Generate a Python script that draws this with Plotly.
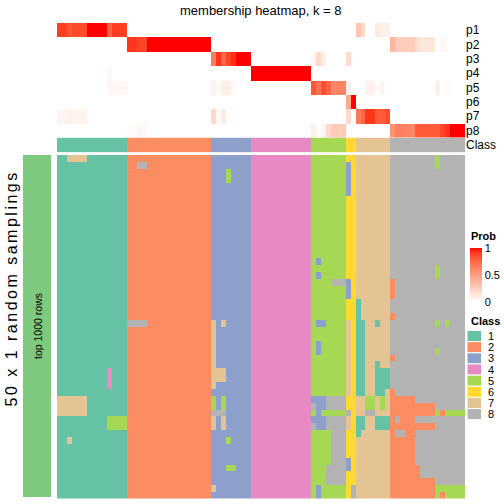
import plotly.graph_objects as go

# ---------------- data ----------------
prob_rows = ["p1", "p2", "p3", "p4", "p5", "p6", "p7", "p8"]

col_class = [1,1,1,1,1,1,1,1,1,1,1,1,1,1,
             2,2,2,2,2,2,2,2,2,2,2,2,2,2,2,2,2,
             3,3,3,3,3,3,3,3,
             4,4,4,4,4,4,4,4,4,4,4,4,
             5,5,5,5,5,5,5,
             6,6,
             7,7,7,7,7,7,7,
             8,8,8,8,8,8,8,8,8,8,8,8,8,8,8]

p1 = [0.9,0.9,0.82,0.86,0.86,0.86,1,1,1,1,
      0.78,0.9,0.9,0.9,0,0,0,0,0,0,
      0,0,0,0,0,0,0,0,0,0,
      0,0,0,0,0,0,0,0,0,0,
      0,0,0,0,0,0,0,0,0,0,
      0,0,0,0,0,0,0,0,0,0,
      0.3,0.22,0,0,0.12,0.08,0.08,0,0,0,
      0,0,0,0,0,0,0,0,0,0,
      0,0]
p2 = [0,0,0,0,0,0,0,0,0,0,
      0,0,0,0,0.92,0.92,0.88,0.88,1,1,
      1,1,1,1,1,1,1,1,1,1,
      1,0,0,0,0,0,0,0,0,0,
      0,0,0,0,0,0,0,0,0,0,
      0,0,0,0,0,0,0,0,0,0,
      0,0,0,0,0,0,0,0.38,0.27,0.27,
      0.27,0.27,0.18,0.13,0.13,0.13,0,0.04,0,0,
      0,0]
p3 = [0,0,0,0,0,0,0,0,0,0,
      0,0,0,0,0,0,0,0,0,0,
      0,0,0,0,0,0,0,0,0,0,
      0,0.65,0.92,0.75,0.88,0.94,1,1,1,0,
      0,0,0,0,0,0,0,0,0,0,
      0,0.04,0.2,0.1,0,0,0,0,0.18,0,
      0,0,0,0,0,0,0,0,0,0,
      0,0,0,0,0,0,0,0,0,0,
      0,0]
p4 = [0,0,0,0,0,0,0,0,0,0,
      0.04,0,0,0,0,0,0,0,0,0,
      0,0,0,0,0,0,0,0,0,0,
      0,0,0,0,0,0,0,0,0,1,
      1,1,1,1,1,1,1,1,1,1,
      1,0,0,0,0,0,0,0,0,0,
      0,0,0,0,0,0,0,0,0,0,
      0,0,0,0,0,0,0,0,0,0,
      0,0]
p5 = [0,0,0,0,0,0,0,0,0,0,
      0.04,0.04,0.04,0.04,0,0,0,0,0,0,
      0,0,0,0,0,0,0,0,0,0,
      0,0.06,0.03,0.08,0.08,0.02,0,0,0,0,
      0,0,0,0,0,0,0,0,0,0,
      0,0.82,0.7,0.85,0.76,0.62,0.62,0.62,0.06,0,
      0,0,0.06,0.06,0,0.04,0,0,0,0,
      0,0,0,0,0,0,0.08,0,0.03,0,
      0,0]
p6 = [0,0,0,0,0,0,0,0,0,0,
      0,0,0,0,0,0,0,0,0,0,
      0,0,0,0,0,0,0,0,0,0,
      0,0,0,0,0,0,0,0,0,0,
      0,0,0,0,0,0,0,0,0,0,
      0,0,0,0,0,0,0,0,0.45,1,
      0,0,0,0,0,0,0,0,0,0,
      0,0,0,0,0,0,0,0,0,0,
      0,0]
p7 = [0.05,0.05,0.08,0.06,0.06,0.06,0,0,0,0,
      0,0,0,0,0,0,0,0,0,0,
      0,0,0,0,0,0,0,0,0,0,
      0,0.2,0.03,0.1,0,0,0,0,0,0,
      0,0,0,0,0,0,0,0,0,0,
      0,0,0,0,0,0,0,0,0.2,0,
      0.68,0.75,0.92,0.92,0.8,0.8,0.85,0,0,0,
      0,0,0,0,0,0,0,0,0,0,
      0,0]
p8 = [0,0,0,0,0,0,0,0,0,0,
      0,0,0,0,0.02,0.02,0.04,0.04,0,0,
      0,0,0,0,0,0,0,0,0,0,
      0,0,0,0,0,0,0,0,0,0,
      0,0,0,0,0,0,0,0,0,0,
      0,0.08,0,0.05,0.2,0.28,0.28,0.28,0,0,
      0,0,0,0,0,0,0,0.55,0.65,0.65,
      0.62,0.62,0.8,0.8,0.8,0.8,0.8,0.88,0.93,1,
      1,1]

# 50 random samplings: class of each column in each sampling
sampling_rows = [
    "11777711111111 22222222222222222 33333333 444444444444 5555555 66 7777777 888888888588888",
    "11111111111111 22882222222222222 33333333 444444444444 5555555 36 7777777 888888888588888",
    "11111111111111 22222222222222222 33353333 444444444444 5555555 36 7777777 888888888888888",
    "11111111111111 22222222222222222 33353333 444444444444 5555555 36 7777777 888888888888888",
    "11111111111111 22222222222222222 33333333 444444444444 5555555 36 7777777 888888888888888",
    "11111111111111 22222222222222222 33333333 444444444444 5555555 36 7777777 888888888888888",
    "11111111111111 22222222222222222 33333333 444444444444 5555555 66 7777777 888888888888888",
    "11111111111111 22222222222222222 33333333 444444444444 5555555 66 7777777 888888888888888",
    "11111111111111 22222222222222222 33333333 444444444444 5555555 66 7777777 888888888888888",
    "11111111111111 22222222222222222 33333333 444444444444 5555555 66 7777777 888888888888888",
    "11111111111111 22222222222222222 33333333 444444444444 5555555 66 7777777 888888888888888",
    "11111111111111 22222222222222222 33333333 444444444444 5555555 66 7777777 888888888888888",
    "11111111111111 22222222222222222 33333333 444444444444 5555555 66 7777777 888888888888888",
    "11111111111111 22222222222222222 33333333 444444444444 5555555 66 7777777 888888888888888",
    "11111111111111 22222222222222222 33333333 444444444444 5555555 66 7777777 888888888888888",
    "11111111111111 22222222222222222 33333333 444444444444 5355555 66 7777777 888888888888888",
    "11111111111111 22222222222222222 33333333 444444444444 5555555 66 7777777 888888888588888",
    "11111111111111 22222222222222222 33333333 444444444444 5355555 66 7777777 888888888588888",
    "11111111111111 22222222222222222 33333333 444444444444 5555888 36 7777777 288888888888888",
    "11111111111111 22222222222222222 33333333 444444444444 5555555 36 7777777 288888888888888",
    "11111111111111 22222222222222222 33333333 444444444444 5555555 36 7777777 288888888888888",
    "11111111111111 22222222222222222 33333333 444444444444 5555555 66 1777777 888888888888888",
    "11111111111111 22222222222222222 33333333 444444444444 5555555 66 1777777 888888888888888",
    "11111111111111 22222222222222222 33333333 444444444444 5555555 66 1777777 288888888888888",
    "11111111111111 88882222222222222 73733333 444444444444 5335555 76 1177177 888888888585888",
    "11111111111111 22222222222222222 73333333 444444444444 5555555 76 1177777 888888888888888",
    "11111111111111 22222222222222222 73333333 444444444444 5555555 76 1177777 888888888888888",
    "11111111111111 22222222222222222 73333333 444444444444 5355555 76 1177777 888888888888888",
    "11111111111111 22222222222222222 73333333 444444444444 5355555 76 1177777 888888888588888",
    "11111111111111 22222222222222222 73333333 444444444444 5555555 76 1177777 288888888888888",
    "11111111111111 22222222222222222 73333333 444444444444 5555555 76 1177177 888888888888888",
    "11111111114111 22222222222222222 77733333 444444444444 5555555 76 1177111 888888888888888",
    "11111111114111 22222222222222222 77733333 444444444444 5555555 76 1177111 888888888888888",
    "11111111114111 22222222222222222 73333333 444444444444 5555555 76 1177111 888888888888888",
    "11111111111111 22222222222222222 33333333 444444444444 5555555 76 1177117 288888888888888",
    "77777711111111 22222222222222222 53533333 444444444444 3338888 66 7755757 222228888888888",
    "77777711111111 22222222222222222 53533333 444444444444 8338888 66 7755757 222222222888888",
    "77777711111111 22222222222222222 88833333 444444444444 5355555 86 7788777 222222222525555",
    "11111111115555 22222222222222222 73733333 444444444444 3338888 76 1177111 282228888888888",
    "11111111115555 22222222222222222 73733333 444444444444 8338888 76 1177111 222222222888888",
    "11111111111111 22222222222222222 33333333 444444444444 5555888 66 1777777 288228888888888",
    "11711111111111 22222222222222222 33353333 444444444444 5555888 66 7777777 222228888888888",
    "11111111111111 22222222222222222 33333333 444444444444 5555888 66 7777777 222228888888888",
    "11111111111111 22222222222222222 33333333 444444444444 5555888 66 7777777 222228888888888",
    "11111111111111 22222222222222222 33333333 444444444444 5555888 36 7777777 222228888888888",
    "11111111111111 22222222222222222 33355333 444444444444 5558888 36 7777777 222222888888888",
    "11111111111111 22222222222222222 33333333 444444444444 5558888 66 7777777 222222888888888",
    "11111111111111 22222222222222222 33333333 444444444444 5558888 66 7777777 222222222888888",
    "11111111111111 22222222222222222 73333333 444444444444 5355555 68 7777777 222222222555555",
    "11111111111111 22222222222222222 33333333 444444444444 5355555 68 7777777 222222222525555",
]

class_labels = ["1", "2", "3", "4", "5", "6", "7", "8"]
class_colors = ["#66C2A5", "#FC8D62", "#8DA0CB", "#E78AC3",
                "#A6D854", "#FFD92F", "#E5C494", "#B3B3B3"]

# ---------------- helpers (styling) ----------------
W = H = 504
FONT = "Liberation Sans, Arial, Helvetica, sans-serif"


def px_x(v):
    return v / W


def px_y(v):
    return 1 - v / H


def _lin(c):
    c = c / 255.0
    return c / 12.92 if c <= 0.04045 else ((c + 0.055) / 1.055) ** 2.4


def _gam(c):
    c = max(0.0, min(1.0, c))
    c = 12.92 * c if c <= 0.0031308 else 1.055 * c ** (1 / 2.4) - 0.055
    return int(round(c * 255))


def rgb_to_lab(rgb):
    r, g, b = (_lin(v) for v in rgb)
    X = (0.4124 * r + 0.3576 * g + 0.1805 * b) / 0.95047
    Y = (0.2126 * r + 0.7152 * g + 0.0722 * b)
    Z = (0.0193 * r + 0.1192 * g + 0.9505 * b) / 1.08883
    f = lambda t: t ** (1 / 3) if t > 0.008856 else 7.787 * t + 16 / 116
    fx, fy, fz = f(X), f(Y), f(Z)
    return 116 * fy - 16, 500 * (fx - fy), 200 * (fy - fz)


def lab_to_rgb(lab):
    L, a, b = lab
    fy = (L + 16) / 116
    fx = fy + a / 500
    fz = fy - b / 200
    inv = lambda t: t ** 3 if t ** 3 > 0.008856 else (t - 16 / 116) / 7.787
    X, Y, Z = inv(fx) * 0.95047, inv(fy), inv(fz) * 1.08883
    r = 3.2406 * X - 1.5372 * Y - 0.4986 * Z
    g = -0.9689 * X + 1.8758 * Y + 0.0415 * Z
    bb = 0.0557 * X - 0.2040 * Y + 1.0570 * Z
    return "rgb(%d,%d,%d)" % (_gam(r), _gam(g), _gam(bb))


lab_w = rgb_to_lab((255, 255, 255))
lab_r = rgb_to_lab((255, 0, 0))
n_stop = 21
prob_scale = []
for i in range(n_stop):
    t = i / (n_stop - 1)
    lab = tuple(lab_w[k] + (lab_r[k] - lab_w[k]) * t for k in range(3))
    prob_scale.append([t, lab_to_rgb(lab)])

class_scale = []
for k, c in enumerate(class_colors):
    class_scale.append([k / 8, c])
    class_scale.append([(k + 1) / 8, c])

cols = list(range(len(col_class)))
sampling_z = []
for s in sampling_rows:
    s = s.replace(" ", "")
    assert len(s) == len(col_class), (len(s), s)
    sampling_z.append([int(ch) for ch in s])

# ---------------- geometry ----------------
X0, X1 = 57, 465
TOP0, TOP1 = 23, 137.6
CL0, CL1 = 137.6, 152.3
BOT0, BOT1 = 155, 498.5

fig = go.Figure()

fig.add_trace(go.Heatmap(
    z=[p1, p2, p3, p4, p5, p6, p7, p8], x=cols, y=list(range(8)),
    xaxis="x", yaxis="y", colorscale=prob_scale, zmin=0, zmax=1,
    showscale=True, hoverinfo="skip",
    colorbar=dict(
        x=px_x(470), xanchor="left", xref="paper", xpad=0,
        y=px_y(248), yanchor="top", yref="paper", ypad=0,
        len=54, lenmode="pixels", thickness=12, thicknessmode="pixels",
        outlinewidth=0, tickvals=[0, 0.5, 1], ticktext=["0", "0.5", "1"],
        ticks="", tickfont=dict(size=11, family=FONT, color="black"),
    ),
))

fig.add_trace(go.Heatmap(
    z=[col_class], x=cols, y=[0], xaxis="x", yaxis="y2",
    colorscale=class_scale, zmin=0.5, zmax=8.5, showscale=False,
    hoverinfo="skip",
))

fig.add_trace(go.Heatmap(
    z=sampling_z, x=cols, y=list(range(len(sampling_z))), xaxis="x", yaxis="y3",
    colorscale=class_scale, zmin=0.5, zmax=8.5, showscale=False,
    hoverinfo="skip",
))

axis_common = dict(showgrid=False, zeroline=False, showline=False, ticks="",
                   automargin=False, fixedrange=True)

fig.update_layout(
    width=W, height=H, autosize=False,
    margin=dict(l=0, r=0, t=0, b=0, pad=0),
    paper_bgcolor="white", plot_bgcolor="white",
    font=dict(family=FONT, color="black"),
    showlegend=False,
    xaxis=dict(domain=[px_x(X0), px_x(X1)], range=[-0.5, len(cols) - 0.5],
               visible=False, anchor="y3", **axis_common),
    yaxis=dict(domain=[px_y(TOP1), px_y(TOP0)], range=[7.5, -0.5], side="right",
               anchor="x", tickvals=list(range(8)), ticktext=prob_rows,
               tickfont=dict(size=12, family=FONT), **axis_common),
    yaxis2=dict(domain=[px_y(CL1), px_y(CL0)], range=[0.5, -0.5], side="right",
                anchor="x", tickvals=[0], ticktext=["Class"],
                tickfont=dict(size=12, family=FONT), **axis_common),
    yaxis3=dict(domain=[px_y(BOT1), px_y(BOT0)], range=[len(sampling_z) - 0.5, -0.5],
                visible=False, anchor="x", **axis_common),
)

shapes = []
annotations = []

# left split bar
shapes.append(dict(type="rect", xref="paper", yref="paper",
                   x0=px_x(23), x1=px_x(51), y0=px_y(497), y1=px_y(BOT0),
                   fillcolor="#7FC97F", line=dict(width=0), layer="below"))
annotations.append(dict(text="top 1000 rows", x=px_x(38), y=px_y(326),
                        xref="paper", yref="paper", showarrow=False, textangle=-90,
                        font=dict(size=10.5, family=FONT), xanchor="center",
                        yanchor="middle"))
annotations.append(dict(text='<span style="letter-spacing:2.5px">50 x 1 random samplings</span>',
                        x=px_x(10.5), y=px_y(289),
                        xref="paper", yref="paper", showarrow=False, textangle=-90,
                        font=dict(size=16, family=FONT), xanchor="center",
                        yanchor="middle"))

# title
annotations.append(dict(text="membership heatmap, k = 8", x=px_x(260.5), y=px_y(10.5),
                        xref="paper", yref="paper", showarrow=False,
                        font=dict(size=13, family=FONT), xanchor="center",
                        yanchor="middle"))

# legend titles
annotations.append(dict(text="<b>Prob</b>", x=px_x(469), y=px_y(236),
                        xref="paper", yref="paper", showarrow=False,
                        font=dict(size=11, family=FONT), xanchor="left",
                        yanchor="middle"))
annotations.append(dict(text="<b>Class</b>", x=px_x(469), y=px_y(321),
                        xref="paper", yref="paper", showarrow=False,
                        font=dict(size=11, family=FONT), xanchor="left",
                        yanchor="middle"))

# class legend keys
key_top, key_h = 330.5, 11.15
for k, (lab, c) in enumerate(zip(class_labels, class_colors)):
    t = key_top + k * key_h
    shapes.append(dict(type="rect", xref="paper", yref="paper",
                       x0=px_x(467), x1=px_x(481.5), y0=px_y(t + key_h), y1=px_y(t),
                       fillcolor=c, line=dict(width=1, color="white")))
    annotations.append(dict(text=lab, x=px_x(486), y=px_y(t + key_h / 2),
                            xref="paper", yref="paper", showarrow=False,
                            font=dict(size=11, family=FONT), xanchor="left",
                            yanchor="middle"))

fig.update_layout(shapes=shapes, annotations=annotations)

fig.write_html("out.html", config={"displayModeBar": False},
               post_script="document.body.style.margin='0px';document.body.style.overflow='hidden';")
